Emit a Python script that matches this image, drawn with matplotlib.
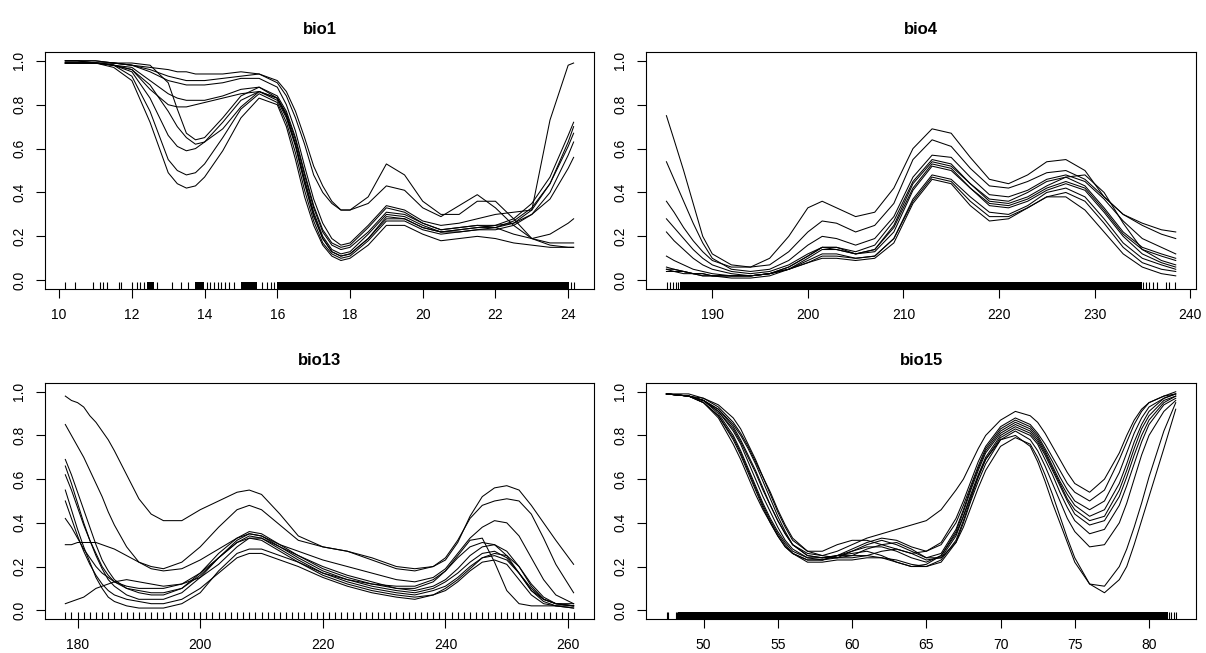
import matplotlib
matplotlib.use("Agg")
import matplotlib.pyplot as plt

plt.rcParams['font.family'] = ['Liberation Sans', 'DejaVu Sans']

# ---- bio1 ----
bio1_x = [10.17, 10.5, 11, 11.5, 12, 12.5, 13, 13.25, 13.5, 13.75, 14, 14.5, 15, 15.5, 16,
          16.25, 16.5, 16.75, 17, 17.25, 17.5, 17.75, 18, 18.5, 19, 19.5, 20, 20.5, 21, 21.5,
          22, 22.5, 23, 23.5, 24, 24.15]
bio1_curves = [
    [0.99, 0.99, 0.99, 0.97, 0.91, 0.72, 0.49, 0.44, 0.42, 0.43, 0.47, 0.59, 0.74, 0.83, 0.80,
     0.70, 0.55, 0.38, 0.25, 0.16, 0.11, 0.09, 0.10, 0.16, 0.25, 0.25, 0.21, 0.18, 0.19, 0.20,
     0.19, 0.17, 0.16, 0.15, 0.15, 0.15],
    [0.99, 0.99, 0.99, 0.98, 0.93, 0.77, 0.55, 0.50, 0.48, 0.49, 0.53, 0.65, 0.78, 0.85, 0.81,
     0.72, 0.58, 0.41, 0.27, 0.17, 0.12, 0.10, 0.11, 0.18, 0.27, 0.27, 0.23, 0.21, 0.22, 0.23,
     0.23, 0.25, 0.30, 0.40, 0.57, 0.63],
    [0.99, 0.99, 0.99, 0.98, 0.95, 0.83, 0.66, 0.61, 0.59, 0.60, 0.63, 0.72, 0.82, 0.86, 0.82,
     0.74, 0.61, 0.44, 0.29, 0.19, 0.13, 0.11, 0.12, 0.19, 0.29, 0.28, 0.24, 0.22, 0.23, 0.24,
     0.24, 0.26, 0.32, 0.44, 0.63, 0.70],
    [1.0, 1.0, 1.0, 0.99, 0.99, 0.98, 0.90, 0.78, 0.67, 0.64, 0.65, 0.74, 0.84, 0.88, 0.83,
     0.75, 0.62, 0.45, 0.30, 0.19, 0.13, 0.11, 0.12, 0.19, 0.28, 0.28, 0.24, 0.22, 0.22, 0.23,
     0.24, 0.27, 0.33, 0.44, 0.61, 0.67],
    [0.99, 0.99, 0.99, 0.98, 0.96, 0.89, 0.77, 0.70, 0.65, 0.62, 0.63, 0.69, 0.79, 0.86, 0.83,
     0.75, 0.62, 0.46, 0.31, 0.20, 0.14, 0.12, 0.13, 0.21, 0.30, 0.29, 0.25, 0.22, 0.23, 0.24,
     0.25, 0.28, 0.35, 0.47, 0.66, 0.72],
    [0.99, 0.99, 0.99, 0.98, 0.96, 0.87, 0.80, 0.79, 0.79, 0.80, 0.81, 0.83, 0.85, 0.86, 0.83,
     0.76, 0.64, 0.48, 0.33, 0.22, 0.16, 0.14, 0.15, 0.22, 0.31, 0.30, 0.26, 0.23, 0.24, 0.25,
     0.25, 0.26, 0.30, 0.37, 0.51, 0.56],
    [0.99, 0.99, 0.99, 0.98, 0.97, 0.91, 0.85, 0.83, 0.82, 0.82, 0.82, 0.84, 0.87, 0.88, 0.84,
     0.77, 0.65, 0.49, 0.34, 0.23, 0.17, 0.15, 0.16, 0.24, 0.33, 0.31, 0.26, 0.23, 0.24, 0.25,
     0.24, 0.21, 0.19, 0.21, 0.26, 0.28],
    [1.0, 1.0, 0.99, 0.99, 0.98, 0.95, 0.91, 0.90, 0.89, 0.89, 0.89, 0.90, 0.92, 0.92, 0.88,
     0.80, 0.68, 0.52, 0.37, 0.26, 0.19, 0.16, 0.17, 0.25, 0.34, 0.32, 0.27, 0.25, 0.26, 0.28,
     0.30, 0.31, 0.32, 0.73, 0.98, 0.99],
    [1.0, 1.0, 1.0, 0.99, 0.98, 0.97, 0.96, 0.95, 0.95, 0.94, 0.94, 0.94, 0.95, 0.94, 0.90,
     0.84, 0.74, 0.62, 0.48, 0.40, 0.35, 0.32, 0.32, 0.38, 0.53, 0.48, 0.36, 0.30, 0.30, 0.36,
     0.36, 0.28, 0.19, 0.16, 0.15, 0.15],
    [1.0, 1.0, 0.99, 0.99, 0.98, 0.96, 0.93, 0.92, 0.91, 0.91, 0.91, 0.92, 0.93, 0.94, 0.91,
     0.86, 0.77, 0.65, 0.52, 0.43, 0.36, 0.32, 0.32, 0.35, 0.43, 0.41, 0.33, 0.29, 0.34, 0.39,
     0.33, 0.25, 0.19, 0.17, 0.17, 0.17],
]
bio1_ticks = [10, 12, 14, 16, 18, 20, 22, 24]
bio1_rug = [10.17, 10.44, 10.93, 11.13, 11.22, 11.31, 11.64, 11.70, 12.0, 12.14, 12.23, 12.33,
            12.69, 13.11, 13.34, 13.55, 14.07, 14.16, 14.26, 14.37, 14.46, 14.55, 14.67, 14.81,
            15.59, 15.72, 15.82, 15.91, 24.08, 24.15]
bio1_rug_dense = [(12.42, 12.6), (13.73, 13.98), (15.01, 15.45), (16.0, 24.02)]

# ---- bio4 ----
bio4_x = [185.2, 186, 187, 188, 189, 190, 192, 194, 196, 198, 200, 201.5, 203, 205, 207, 209,
          211, 213, 215, 217, 219, 221, 223, 225, 227, 229, 231, 233, 235, 237, 238.5]
bio4_curves = [
    [0.75, 0.64, 0.50, 0.35, 0.20, 0.12, 0.07, 0.06, 0.07, 0.13, 0.22, 0.27, 0.26, 0.22, 0.25,
     0.35, 0.55, 0.64, 0.61, 0.51, 0.43, 0.42, 0.45, 0.49, 0.50, 0.46, 0.38, 0.30, 0.25, 0.21, 0.19],
    [0.54, 0.46, 0.36, 0.26, 0.17, 0.10, 0.05, 0.04, 0.05, 0.09, 0.16, 0.20, 0.19, 0.16, 0.19,
     0.29, 0.47, 0.57, 0.56, 0.47, 0.39, 0.38, 0.41, 0.46, 0.48, 0.45, 0.37, 0.27, 0.19, 0.15, 0.12],
    [0.36, 0.31, 0.24, 0.18, 0.13, 0.09, 0.06, 0.06, 0.10, 0.20, 0.33, 0.36, 0.33, 0.29, 0.31,
     0.42, 0.60, 0.69, 0.67, 0.56, 0.46, 0.44, 0.48, 0.54, 0.55, 0.50, 0.38, 0.30, 0.26, 0.23, 0.22],
    [0.28, 0.24, 0.19, 0.14, 0.10, 0.07, 0.04, 0.03, 0.04, 0.07, 0.12, 0.15, 0.15, 0.13, 0.16,
     0.27, 0.45, 0.55, 0.53, 0.44, 0.37, 0.36, 0.40, 0.45, 0.47, 0.43, 0.33, 0.22, 0.15, 0.12, 0.10],
    [0.22, 0.18, 0.14, 0.10, 0.07, 0.05, 0.03, 0.02, 0.03, 0.06, 0.11, 0.15, 0.15, 0.12, 0.14,
     0.25, 0.44, 0.54, 0.52, 0.44, 0.36, 0.35, 0.38, 0.43, 0.47, 0.48, 0.40, 0.26, 0.14, 0.09, 0.07],
    [0.11, 0.09, 0.07, 0.05, 0.04, 0.03, 0.02, 0.02, 0.03, 0.06, 0.11, 0.15, 0.14, 0.12, 0.14,
     0.24, 0.42, 0.53, 0.51, 0.42, 0.35, 0.34, 0.37, 0.42, 0.45, 0.42, 0.32, 0.21, 0.14, 0.11, 0.09],
    [0.06, 0.05, 0.04, 0.03, 0.03, 0.02, 0.02, 0.02, 0.03, 0.05, 0.10, 0.14, 0.14, 0.12, 0.13,
     0.22, 0.41, 0.52, 0.50, 0.42, 0.34, 0.33, 0.36, 0.41, 0.44, 0.41, 0.31, 0.20, 0.12, 0.08, 0.06],
    [0.05, 0.05, 0.04, 0.03, 0.02, 0.02, 0.01, 0.01, 0.02, 0.05, 0.09, 0.12, 0.12, 0.10, 0.11,
     0.19, 0.37, 0.48, 0.46, 0.38, 0.31, 0.30, 0.34, 0.40, 0.42, 0.38, 0.28, 0.17, 0.10, 0.07, 0.05],
    [0.05, 0.04, 0.04, 0.03, 0.03, 0.02, 0.02, 0.02, 0.03, 0.05, 0.08, 0.11, 0.11, 0.10, 0.11,
     0.19, 0.36, 0.47, 0.45, 0.36, 0.29, 0.29, 0.33, 0.38, 0.40, 0.36, 0.26, 0.15, 0.08, 0.05, 0.04],
    [0.04, 0.04, 0.03, 0.03, 0.02, 0.02, 0.02, 0.02, 0.03, 0.05, 0.08, 0.10, 0.10, 0.09, 0.10,
     0.17, 0.35, 0.46, 0.44, 0.34, 0.27, 0.28, 0.33, 0.38, 0.38, 0.32, 0.22, 0.12, 0.06, 0.03, 0.02],
]
bio4_ticks = [190, 200, 210, 220, 230, 240]
bio4_rug = [185.23, 185.58, 185.93, 186.2, 186.45, 235.1, 235.4, 235.7, 236.1, 236.5,
            237.5, 237.8, 238.4]
bio4_rug_dense = [(186.6, 234.96)]

# ---- bio13 ----
bio13_x = [178, 179, 180, 181, 182, 183, 184, 185, 186, 188, 190, 192, 194, 197, 200, 203, 206,
           208, 210, 213, 216, 220, 224, 228, 232, 235, 238, 240, 242, 244, 246, 248, 250, 252,
           254, 256, 258, 260.9]
bio13_curves = [
    [0.98, 0.96, 0.95, 0.93, 0.89, 0.86, 0.82, 0.78, 0.73, 0.62, 0.51, 0.44, 0.41, 0.41, 0.46,
     0.50, 0.54, 0.55, 0.53, 0.44, 0.34, 0.29, 0.27, 0.23, 0.19, 0.18, 0.20, 0.24, 0.32, 0.42,
     0.48, 0.50, 0.51, 0.50, 0.44, 0.33, 0.21, 0.08],
    [0.85, 0.80, 0.75, 0.70, 0.64, 0.58, 0.52, 0.45, 0.39, 0.29, 0.22, 0.20, 0.19, 0.22, 0.29,
     0.38, 0.46, 0.48, 0.46, 0.39, 0.32, 0.29, 0.27, 0.24, 0.20, 0.19, 0.20, 0.23, 0.31, 0.43,
     0.52, 0.56, 0.57, 0.55, 0.48, 0.40, 0.32, 0.21],
    [0.30, 0.30, 0.31, 0.31, 0.31, 0.31, 0.30, 0.29, 0.28, 0.25, 0.22, 0.19, 0.18, 0.19, 0.23,
     0.28, 0.33, 0.35, 0.34, 0.30, 0.27, 0.23, 0.20, 0.17, 0.14, 0.13, 0.15, 0.19, 0.26, 0.33,
     0.38, 0.41, 0.40, 0.34, 0.24, 0.14, 0.07, 0.03],
    [0.03, 0.04, 0.05, 0.06, 0.08, 0.10, 0.11, 0.12, 0.13, 0.14, 0.13, 0.12, 0.11, 0.12, 0.15,
     0.21, 0.29, 0.33, 0.33, 0.29, 0.25, 0.20, 0.16, 0.13, 0.10, 0.09, 0.11, 0.14, 0.19, 0.25,
     0.29, 0.30, 0.27, 0.20, 0.11, 0.05, 0.03, 0.02],
    [0.69, 0.62, 0.54, 0.46, 0.38, 0.30, 0.23, 0.18, 0.14, 0.10, 0.08, 0.07, 0.07, 0.10, 0.17,
     0.26, 0.33, 0.36, 0.35, 0.30, 0.25, 0.19, 0.15, 0.12, 0.10, 0.10, 0.13, 0.18, 0.25, 0.32,
     0.33, 0.22, 0.09, 0.03, 0.02, 0.02, 0.02, 0.02],
    [0.66, 0.58, 0.49, 0.40, 0.32, 0.25, 0.19, 0.14, 0.11, 0.07, 0.05, 0.05, 0.05, 0.08, 0.15,
     0.24, 0.32, 0.35, 0.34, 0.29, 0.24, 0.18, 0.14, 0.11, 0.09, 0.08, 0.10, 0.13, 0.17, 0.22,
     0.26, 0.27, 0.24, 0.17, 0.09, 0.04, 0.02, 0.01],
    [0.62, 0.55, 0.47, 0.39, 0.32, 0.26, 0.20, 0.16, 0.13, 0.10, 0.09, 0.08, 0.08, 0.10, 0.16,
     0.24, 0.31, 0.34, 0.33, 0.28, 0.23, 0.17, 0.13, 0.10, 0.08, 0.07, 0.09, 0.11, 0.15, 0.20,
     0.24, 0.25, 0.23, 0.17, 0.10, 0.05, 0.03, 0.02],
    [0.55, 0.46, 0.37, 0.29, 0.22, 0.15, 0.10, 0.06, 0.04, 0.02, 0.01, 0.01, 0.01, 0.03, 0.08,
     0.18, 0.26, 0.28, 0.28, 0.25, 0.22, 0.16, 0.12, 0.09, 0.07, 0.06, 0.07, 0.09, 0.13, 0.18,
     0.22, 0.23, 0.21, 0.14, 0.07, 0.03, 0.02, 0.01],
    [0.50, 0.42, 0.34, 0.27, 0.21, 0.16, 0.12, 0.09, 0.07, 0.05, 0.04, 0.03, 0.03, 0.05, 0.10,
     0.17, 0.24, 0.26, 0.26, 0.23, 0.20, 0.15, 0.11, 0.08, 0.06, 0.05, 0.07, 0.10, 0.14, 0.19,
     0.24, 0.26, 0.25, 0.20, 0.12, 0.06, 0.03, 0.02],
    [0.42, 0.38, 0.33, 0.28, 0.24, 0.20, 0.17, 0.15, 0.13, 0.11, 0.10, 0.10, 0.10, 0.12, 0.17,
     0.24, 0.31, 0.33, 0.32, 0.27, 0.22, 0.17, 0.14, 0.12, 0.11, 0.11, 0.14, 0.18, 0.24, 0.29,
     0.31, 0.30, 0.25, 0.17, 0.09, 0.05, 0.03, 0.03],
]
bio13_ticks = [180, 200, 220, 240, 260]
bio13_rug = list(range(178, 262))
bio13_rug_dense = []

# ---- bio15 ----
bio15_x = [47.5, 49, 50, 51, 52, 52.5, 53, 53.5, 54, 54.5, 55, 55.5, 56, 57, 58, 59, 60, 61, 62,
           63, 64, 65, 66, 67, 67.5, 68, 68.5, 69, 70, 71, 72, 72.5, 73, 73.5, 74, 74.5, 75, 76,
           77, 78, 78.5, 79, 79.5, 80, 81, 81.8]
bio15_curves = [
    [0.99, 0.98, 0.97, 0.94, 0.88, 0.83, 0.76, 0.69, 0.61, 0.53, 0.45, 0.38, 0.32, 0.27, 0.25,
     0.27, 0.30, 0.33, 0.35, 0.37, 0.39, 0.41, 0.46, 0.55, 0.60, 0.67, 0.74, 0.80, 0.87, 0.91,
     0.89, 0.86, 0.81, 0.75, 0.69, 0.63, 0.58, 0.54, 0.60, 0.72, 0.80, 0.87, 0.92, 0.95, 0.98, 0.99],
    [0.99, 0.99, 0.97, 0.93, 0.86, 0.81, 0.75, 0.68, 0.61, 0.54, 0.46, 0.39, 0.33, 0.27, 0.27,
     0.30, 0.32, 0.32, 0.30, 0.28, 0.26, 0.27, 0.31, 0.42, 0.50, 0.59, 0.68, 0.75, 0.84, 0.88,
     0.85, 0.81, 0.76, 0.70, 0.64, 0.58, 0.54, 0.50, 0.55, 0.69, 0.77, 0.85, 0.91, 0.95, 0.98, 1.0],
    [0.99, 0.98, 0.96, 0.91, 0.83, 0.77, 0.70, 0.63, 0.55, 0.48, 0.41, 0.35, 0.30, 0.25, 0.24,
     0.25, 0.28, 0.31, 0.33, 0.32, 0.29, 0.27, 0.30, 0.40, 0.48, 0.57, 0.66, 0.74, 0.83, 0.87,
     0.84, 0.80, 0.74, 0.68, 0.61, 0.55, 0.50, 0.46, 0.50, 0.63, 0.72, 0.81, 0.88, 0.93, 0.97, 0.99],
    [0.99, 0.98, 0.96, 0.92, 0.85, 0.80, 0.74, 0.67, 0.59, 0.51, 0.43, 0.36, 0.30, 0.25, 0.24,
     0.24, 0.25, 0.28, 0.30, 0.31, 0.28, 0.24, 0.26, 0.37, 0.46, 0.56, 0.65, 0.73, 0.82, 0.86,
     0.83, 0.79, 0.73, 0.66, 0.59, 0.53, 0.48, 0.43, 0.46, 0.58, 0.67, 0.77, 0.85, 0.91, 0.97, 0.99],
    [0.99, 0.98, 0.95, 0.89, 0.79, 0.72, 0.64, 0.56, 0.48, 0.41, 0.35, 0.30, 0.26, 0.23, 0.23,
     0.25, 0.27, 0.29, 0.29, 0.27, 0.24, 0.22, 0.25, 0.36, 0.45, 0.55, 0.64, 0.72, 0.81, 0.85,
     0.82, 0.78, 0.72, 0.65, 0.58, 0.51, 0.46, 0.41, 0.43, 0.55, 0.64, 0.74, 0.83, 0.89, 0.96, 0.98],
    [0.99, 0.98, 0.96, 0.92, 0.84, 0.78, 0.71, 0.64, 0.56, 0.48, 0.41, 0.35, 0.30, 0.26, 0.25,
     0.24, 0.24, 0.25, 0.27, 0.28, 0.26, 0.23, 0.24, 0.34, 0.43, 0.53, 0.62, 0.70, 0.80, 0.84,
     0.81, 0.77, 0.71, 0.64, 0.57, 0.50, 0.44, 0.39, 0.41, 0.52, 0.61, 0.71, 0.80, 0.87, 0.95, 0.98],
    [0.99, 0.98, 0.96, 0.90, 0.80, 0.73, 0.65, 0.57, 0.49, 0.42, 0.36, 0.31, 0.27, 0.24, 0.24,
     0.25, 0.26, 0.27, 0.25, 0.22, 0.20, 0.21, 0.25, 0.35, 0.43, 0.52, 0.61, 0.69, 0.79, 0.83,
     0.80, 0.76, 0.69, 0.62, 0.54, 0.47, 0.41, 0.35, 0.37, 0.48, 0.57, 0.67, 0.77, 0.85, 0.94, 0.97],
    [0.99, 0.98, 0.95, 0.88, 0.76, 0.69, 0.61, 0.53, 0.46, 0.40, 0.34, 0.29, 0.26, 0.22, 0.22,
     0.23, 0.23, 0.24, 0.24, 0.23, 0.21, 0.20, 0.22, 0.31, 0.40, 0.50, 0.59, 0.67, 0.78, 0.82,
     0.78, 0.73, 0.66, 0.58, 0.50, 0.42, 0.36, 0.29, 0.30, 0.40, 0.49, 0.60, 0.71, 0.80, 0.91, 0.96],
    [0.99, 0.98, 0.95, 0.89, 0.78, 0.71, 0.63, 0.55, 0.47, 0.40, 0.34, 0.29, 0.26, 0.23, 0.23,
     0.25, 0.25, 0.25, 0.24, 0.22, 0.20, 0.20, 0.23, 0.32, 0.41, 0.51, 0.61, 0.69, 0.78, 0.80,
     0.75, 0.68, 0.59, 0.49, 0.40, 0.31, 0.22, 0.12, 0.11, 0.20, 0.28, 0.38, 0.49, 0.61, 0.82, 0.95],
    [0.99, 0.98, 0.96, 0.91, 0.82, 0.76, 0.68, 0.60, 0.52, 0.45, 0.38, 0.32, 0.28, 0.24, 0.23,
     0.24, 0.27, 0.30, 0.32, 0.30, 0.27, 0.24, 0.24, 0.31, 0.38, 0.47, 0.56, 0.64, 0.75, 0.79,
     0.76, 0.70, 0.62, 0.53, 0.43, 0.33, 0.24, 0.12, 0.08, 0.14, 0.20, 0.30, 0.41, 0.52, 0.74, 0.92],
]
bio15_ticks = [50, 55, 60, 65, 70, 75, 80]
bio15_rug = [47.52, 47.6, 48.15, 48.24, 81.35, 81.5, 81.65, 81.8]
bio15_rug_dense = [(48.3, 81.25)]


def draw_panel(ax, title, x, curves, xticks, rug, rug_dense):
    for y in curves:
        ax.plot(x, y, color="black", lw=0.75)
    # rug along the bottom
    trans = ax.get_xaxis_transform()
    ax.vlines(rug, 0, 0.03, transform=trans, color="black", lw=0.8)
    for a, b in rug_dense:
        ax.axvspan(a, b, ymin=0, ymax=0.03, color="black", lw=0)
    # R style 4% padding
    pad = 0.04 * (x[-1] - x[0])
    ax.set_xlim(x[0] - pad, x[-1] + pad)
    ax.set_ylim(-0.04, 1.04)
    ax.set_xticks(xticks)
    ax.set_yticks([0.0, 0.2, 0.4, 0.6, 0.8, 1.0])
    ax.set_yticklabels(["0.0", "0.2", "0.4", "0.6", "0.8", "1.0"])
    ax.tick_params(length=6.5, width=0.8, labelsize=10, pad=7)
    ax.tick_params(axis="y", labelrotation=90)
    for lab in ax.get_yticklabels():
        lab.set_va("center")
    for s in ax.spines.values():
        s.set_linewidth(0.8)
    ax.set_title(title, fontsize=12, fontweight="bold", pad=13)


fig = plt.figure(figsize=(12.06, 6.53), dpi=100)
ax1 = fig.add_axes([0.0373, 0.5574, 0.4552, 0.3629])
ax2 = fig.add_axes([0.5357, 0.5574, 0.4561, 0.3629])
ax3 = fig.add_axes([0.0373, 0.0521, 0.4552, 0.3614])
ax4 = fig.add_axes([0.5357, 0.0521, 0.4561, 0.3614])

draw_panel(ax1, "bio1", bio1_x, bio1_curves, bio1_ticks, bio1_rug, bio1_rug_dense)
draw_panel(ax2, "bio4", bio4_x, bio4_curves, bio4_ticks, bio4_rug, bio4_rug_dense)
draw_panel(ax3, "bio13", bio13_x, bio13_curves, bio13_ticks, bio13_rug, bio13_rug_dense)
draw_panel(ax4, "bio15", bio15_x, bio15_curves, bio15_ticks, bio15_rug, bio15_rug_dense)

fig.savefig("out.png", dpi=100)
